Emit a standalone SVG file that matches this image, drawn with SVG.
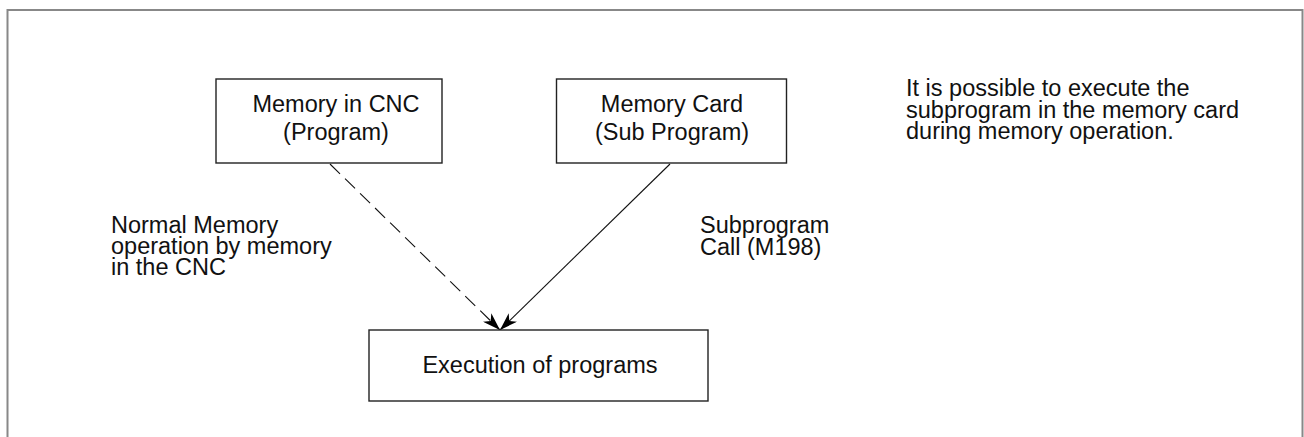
<svg xmlns="http://www.w3.org/2000/svg" width="1304" height="437" viewBox="0 0 1304 437">
  <style>
    .box { fill: #fff; stroke: #222; stroke-width: 1.4; }
    .t { font-family: "Liberation Sans", Arial, sans-serif; font-size: 23.5px; fill: #111; }
    .c { text-anchor: middle; }
    .edge { fill: none; stroke: #111; stroke-width: 1.1; }
    .dash { stroke-dasharray: 14 7; }
  </style>
  <defs>
    <marker id="arrow" viewBox="0 0 18 12" refX="18" refY="6" markerWidth="18" markerHeight="12" markerUnits="userSpaceOnUse" orient="auto">
      <path d="M0,0 L18,6 L0,12 L5,6 Z" fill="#000"/>
    </marker>
  </defs>
  <rect width="1304" height="437" fill="#fff"/>
  <path d="M7.5,440 V10 H1302.5 V440" fill="none" stroke="#888" stroke-width="2"/>

  <g id="connectors">
    <line class="edge dash" x1="330" y1="164" x2="500" y2="330" marker-end="url(#arrow)"/>
    <line class="edge" x1="670" y1="164" x2="500" y2="330" marker-end="url(#arrow)"/>
    <text class="t" x="111" y="233">Normal Memory</text>
    <text class="t" x="111" y="254">operation by memory</text>
    <text class="t" x="111" y="275">in the CNC</text>
    <text class="t" x="700" y="233">Subprogram</text>
    <text class="t" x="700" y="255">Call (M198)</text>
  </g>

  <g id="node-memory-cnc">
    <rect class="box" x="216" y="79" width="226" height="84"/>
    <text class="t c" x="336" y="112">Memory in CNC</text>
    <text class="t c" x="336" y="140">(Program)</text>
  </g>

  <g id="node-memory-card">
    <rect class="box" x="556.5" y="79" width="230" height="84"/>
    <text class="t c" x="672" y="112">Memory Card</text>
    <text class="t c" x="672" y="140">(Sub Program)</text>
  </g>

  <g id="node-execution">
    <rect class="box" x="369" y="330" width="339" height="71"/>
    <text class="t c" x="540" y="373">Execution of programs</text>
  </g>

  <g id="note">
    <text class="t" x="906" y="95.5">It is possible to execute the</text>
    <text class="t" x="906" y="117.5">subprogram in the memory card</text>
    <text class="t" x="906" y="139">during memory operation.</text>
  </g>
</svg>
